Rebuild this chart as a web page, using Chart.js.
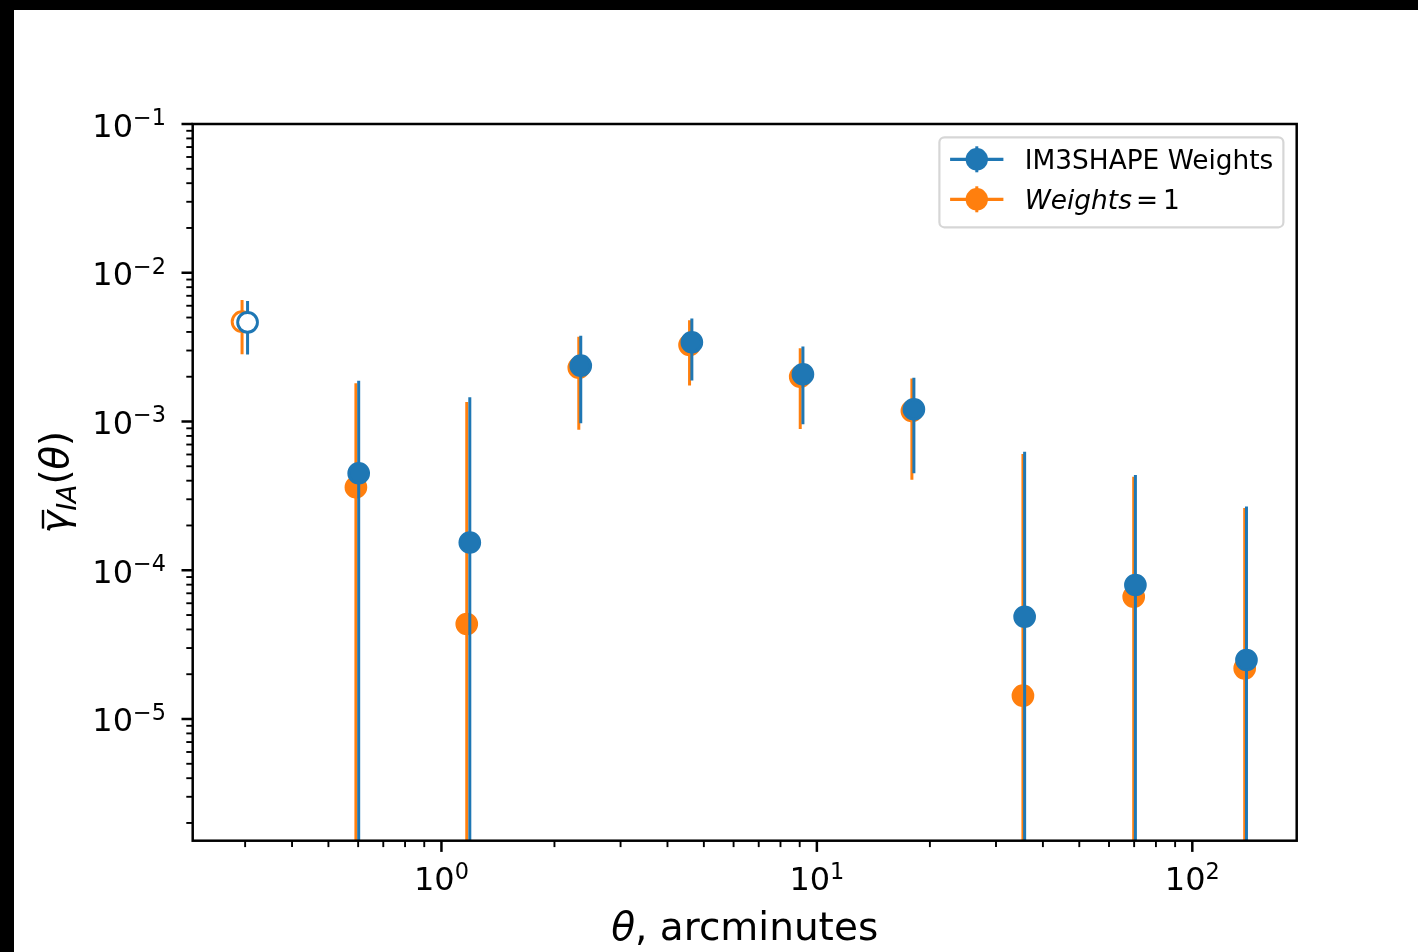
<!DOCTYPE html>
<html>
<head>
<meta charset="utf-8">
<script src="https://cdn.jsdelivr.net/npm/chart.js@4.4.1/dist/chart.umd.min.js"></script>
<style>
  html, body { margin: 0; padding: 0; background: #000; }
  canvas { display: block; }
</style>
</head>
<body>
<canvas id="iaChart" width="1418" height="952"></canvas>
<script>
// bin centres in arcmin, gamma_IA and 1-sigma errors; negative values are shown as |v| with an open marker
const thetaIm3 = [0.3045, 0.602, 1.19, 2.35, 4.645, 9.18, 18.13, 35.76, 70.54, 139.4];
const gammaIm3 = [-4.64e-3, 4.49e-4, 1.537e-4, 2.372e-3, 3.406e-3, 2.077e-3, 1.208e-3, 4.87e-5, 7.96e-5, 2.49e-5];
const errIm3 = [1.82e-3, 1.43e-3, 1.30e-3, 1.40e-3, 1.52e-3, 1.12e-3, 0.76e-3, 5.78e-4, 3.57e-4, 2.43e-4];

const thetaUnit = [0.2944, 0.5918, 1.168, 2.322, 4.58, 9.03, 17.91, 35.39, 69.81, 137.9];
const gammaUnit = [-4.69e-3, 3.61e-4, 4.35e-5, 2.30e-3, 3.268e-3, 2.0e-3, 1.176e-3, 1.434e-5, 6.64e-5, 2.19e-5];
const errUnit = [1.86e-3, 1.445e-3, 1.31e-3, 1.42e-3, 1.52e-3, 1.11e-3, 0.77e-3, 5.9e-4, 3.58e-4, 2.40e-4];

const xDecades = [0, 1, 2];
const yDecades = [-1, -2, -3, -4, -5];

const BLUE = "#1f77b4";
const ORANGE = "#ff7f0e";
const FONT = "'DejaVu Sans', sans-serif";

function toPoints(xs, ys) {
    return xs.map((x, i) => ({ x: x, y: Math.abs(ys[i]) }));
}

function makeSet(label, xs, ys, errs, color) {
    return {
        label: label,
        data: toPoints(xs, ys),
        errs: errs,
        color: color,
        showLine: false,
        pointRadius: 9.9,
        pointHoverRadius: 9.9,
        pointBorderWidth: 2.9,
        pointBorderColor: color,
        pointBackgroundColor: (c) => (ys[c.dataIndex] < 0 ? "#ffffff" : color),
    };
}

// vertical error bars, drawn just before each dataset's markers
const errorBars = {
    id: "errorBars",
    beforeDatasetDraw(chart, args) {
        const ds = chart.data.datasets[args.index];
        const { ctx, chartArea } = chart;
        const xs = chart.scales.x, ys = chart.scales.y;
        ctx.save();
        ctx.beginPath();
        ctx.rect(chartArea.left, chartArea.top, chartArea.right - chartArea.left, chartArea.bottom - chartArea.top);
        ctx.clip();
        ctx.strokeStyle = ds.color;
        ctx.lineWidth = 3;
        ds.data.forEach((p, i) => {
            const px = xs.getPixelForValue(p.x);
            const hi = p.y + ds.errs[i];
            const lo = p.y - ds.errs[i];
            const yTop = ys.getPixelForValue(hi);
            const yBot = lo > 0 ? ys.getPixelForValue(lo) : chartArea.bottom + 5;
            ctx.beginPath();
            ctx.moveTo(px, yTop);
            ctx.lineTo(px, yBot);
            ctx.stroke();
        });
        ctx.restore();
    },
};

function powerLabel(ctx, exp, x, baseY, align) {
    const base = "10";
    const sup = exp < 0 ? "\u2212" + Math.abs(exp) : String(exp);
    ctx.font = "32px " + FONT;
    const wb = ctx.measureText(base).width;
    ctx.font = "22.4px " + FONT;
    const ws = ctx.measureText(sup).width;
    const total = wb + ws;
    let x0 = align === "right" ? x - total : x - total / 2;
    ctx.textAlign = "left";
    ctx.textBaseline = "alphabetic";
    ctx.font = "32px " + FONT;
    ctx.fillText(base, x0, baseY);
    ctx.font = "22.4px " + FONT;
    ctx.fillText(sup, x0 + wb, baseY - 11.5);
}

// frame, log ticks, tick labels and axis titles
const axesFrame = {
    id: "axesFrame",
    beforeDraw(chart) {
        const ctx = chart.ctx;
        ctx.save();
        ctx.fillStyle = "#ffffff";
        ctx.fillRect(14, 10, chart.width - 14, chart.height - 10);
        ctx.restore();
    },
    afterDatasetsDraw(chart) {
        const { ctx, chartArea } = chart;
        const xs = chart.scales.x, ys = chart.scales.y;
        const L = chartArea.left, R = chartArea.right, T = chartArea.top, B = chartArea.bottom;
        ctx.save();
        ctx.strokeStyle = "#000";
        ctx.fillStyle = "#000";

        // minor + major ticks
        for (let d = -7; d <= 3; d++) {
            for (let m = 1; m <= 9; m++) {
                const v = m * Math.pow(10, d);
                const major = m === 1;
                const len = major ? 11.2 : 6.4;
                ctx.lineWidth = major ? 2.5 : 1.9;
                if (v >= xs.min && v <= xs.max) {
                    const px = xs.getPixelForValue(v);
                    ctx.beginPath();
                    ctx.moveTo(px, B);
                    ctx.lineTo(px, B + len);
                    ctx.stroke();
                }
                if (v >= ys.min && v <= ys.max) {
                    const py = ys.getPixelForValue(v);
                    ctx.beginPath();
                    ctx.moveTo(L, py);
                    ctx.lineTo(L - len, py);
                    ctx.stroke();
                }
            }
        }

        ctx.lineWidth = 2.5;
        ctx.strokeRect(L, T, R - L, B - T);

        xDecades.forEach((e) => {
            powerLabel(ctx, e, xs.getPixelForValue(Math.pow(10, e)), 890, "center");
        });
        yDecades.forEach((e) => {
            powerLabel(ctx, e, 166, ys.getPixelForValue(Math.pow(10, e)) + 12.5, "right");
        });

        // x title: θ, arcminutes
        ctx.textBaseline = "alphabetic";
        ctx.textAlign = "left";
        ctx.font = "italic 39px " + FONT;
        const wTheta = ctx.measureText("\u03b8").width;
        ctx.font = "39px " + FONT;
        const wRest = ctx.measureText(", arcminutes").width;
        let x0 = (L + R) / 2 - (wTheta + wRest) / 2;
        ctx.font = "italic 39px " + FONT;
        ctx.fillText("\u03b8", x0, 940);
        ctx.font = "39px " + FONT;
        ctx.fillText(", arcminutes", x0 + wTheta, 940);

        // y title: gamma-bar_IA(θ), rotated
        ctx.translate(68, (T + B) / 2);
        ctx.rotate(-Math.PI / 2);
        const parts = [
            { t: "\u03b3", f: "italic 38.4px ", dy: 0 },
            { t: "IA", f: "italic 26.9px ", dy: 8 },
            { t: "(", f: "38.4px ", dy: 0 },
            { t: "\u03b8", f: "italic 38.4px ", dy: 0 },
            { t: ")", f: "38.4px ", dy: 0 },
        ];
        let total = 0;
        parts.forEach((p) => {
            ctx.font = p.f + FONT;
            p.w = ctx.measureText(p.t).width;
            total += p.w;
        });
        let cx = -total / 2;
        parts.forEach((p, i) => {
            ctx.font = p.f + FONT;
            ctx.fillText(p.t, cx, p.dy);
            if (i === 0) {
                ctx.lineWidth = 2.4;
                ctx.beginPath();
                ctx.moveTo(cx + 5, -25);
                ctx.lineTo(cx + p.w + 1, -25);
                ctx.stroke();
            }
            cx += p.w;
        });
        ctx.restore();
    },
    afterDraw(chart) {
        // legend box, upper right
        const ctx = chart.ctx;
        const { right, top } = chart.chartArea;
        const bx = right - 13.3 - 344, by = top + 13.3, bw = 344, bh = 90;
        ctx.save();
        ctx.fillStyle = "rgba(255,255,255,0.8)";
        ctx.strokeStyle = "rgba(204,204,204,0.8)";
        ctx.lineWidth = 2.2;
        ctx.beginPath();
        ctx.roundRect(bx, by, bw, bh, 5);
        ctx.fill();
        ctx.stroke();

        const rows = [
            { color: BLUE, y: by + 22 },
            { color: ORANGE, y: by + 62 },
        ];
        rows.forEach((r) => {
            const hx = bx + 10.7;
            ctx.strokeStyle = r.color;
            ctx.lineWidth = 3.2;
            ctx.beginPath();
            ctx.moveTo(hx, r.y);
            ctx.lineTo(hx + 53.3, r.y);
            ctx.stroke();
            ctx.lineWidth = 3;
            ctx.beginPath();
            ctx.moveTo(hx + 26.7, r.y - 13);
            ctx.lineTo(hx + 26.7, r.y + 13);
            ctx.stroke();
            ctx.fillStyle = r.color;
            ctx.beginPath();
            ctx.arc(hx + 26.7, r.y, 11.2, 0, Math.PI * 2);
            ctx.fill();
        });

        const tx = bx + 10.7 + 53.3 + 21.3;
        ctx.fillStyle = "#000";
        ctx.textAlign = "left";
        ctx.textBaseline = "alphabetic";
        ctx.font = "26.4px " + FONT;
        ctx.fillText(chart.data.datasets[0].label, tx, rows[0].y + 9.8);
        ctx.font = "italic 26.4px " + FONT;
        ctx.fillText("Weights", tx, rows[1].y + 9.8);
        const ww = ctx.measureText("Weights").width;
        ctx.font = "26.4px " + FONT;
        ctx.fillText("=", tx + ww + 4, rows[1].y + 9.8);
        ctx.fillText("1", tx + ww + 31, rows[1].y + 9.8);
        ctx.restore();
    },
};

Chart.defaults.font.family = FONT;

new Chart(document.getElementById("iaChart").getContext("2d"), {
    type: "scatter",
    data: {
        datasets: [
            makeSet("IM3SHAPE Weights", thetaIm3, gammaIm3, errIm3, BLUE),
            makeSet("Weights = 1", thetaUnit, gammaUnit, errUnit, ORANGE),
        ],
    },
    options: {
        responsive: false,
        devicePixelRatio: 1,
        animation: false,
        layout: { padding: { left: 192.7, top: 124, right: 121.3, bottom: 111.3 } },
        plugins: { legend: { display: false }, tooltip: { enabled: false } },
        scales: {
            x: { type: "logarithmic", min: 0.2175, max: 189.7, display: false },
            y: { type: "logarithmic", min: 1.52e-6, max: 0.1, display: false },
        },
    },
    plugins: [errorBars, axesFrame],
});
</script>
</body>
</html>
